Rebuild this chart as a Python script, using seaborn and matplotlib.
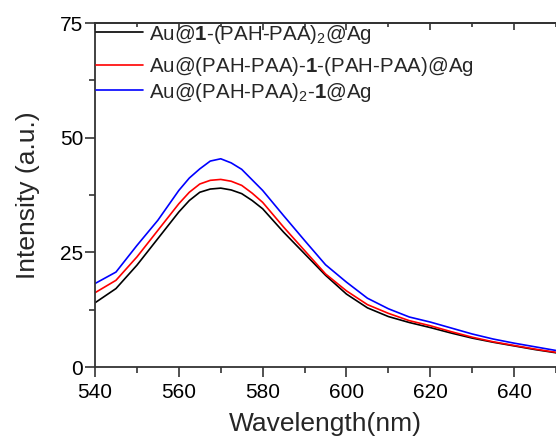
import matplotlib
matplotlib.use("Agg")
import matplotlib.pyplot as plt
import seaborn as sns
import pandas as pd
from matplotlib.ticker import MultipleLocator
from matplotlib.legend import Legend

sns.set_style("ticks")
plt.rcParams['font.family'] = ['Liberation Sans', 'DejaVu Sans']
plt.rcParams['mathtext.fontset'] = 'custom'
plt.rcParams['mathtext.rm'] = 'Liberation Sans'
plt.rcParams['mathtext.bf'] = 'Liberation Sans:bold'
plt.rcParams['mathtext.it'] = 'Liberation Sans:italic'

wavelength = [540, 545, 550, 555, 560, 562.5, 565, 567.5, 570, 572.5, 575, 577.5, 580,
              585, 590, 595, 600, 605, 610, 615, 620, 625, 630, 635, 640, 645, 650]
black_vals = [14.0, 17.1, 22.2, 28.0, 33.8, 36.3, 38.1, 38.8, 39.0, 38.6, 37.8, 36.3, 34.5,
              29.4, 24.7, 20.0, 15.9, 12.9, 11.0, 9.7, 8.6, 7.4, 6.3, 5.4, 4.6, 3.8, 3.1]
red_vals = [16.2, 18.9, 24.0, 29.8, 35.6, 38.1, 39.9, 40.7, 40.9, 40.5, 39.6, 37.9, 35.9,
            30.5, 25.4, 20.3, 16.6, 13.6, 11.7, 10.1, 9.0, 7.7, 6.5, 5.5, 4.7, 3.9, 3.2]
blue_vals = [18.2, 20.7, 26.5, 32.0, 38.5, 41.2, 43.2, 44.9, 45.4, 44.5, 43.1, 40.8, 38.5,
             33.0, 27.6, 22.3, 18.5, 15.0, 12.7, 10.9, 9.8, 8.5, 7.2, 6.1, 5.2, 4.4, 3.6]
labels = [r"Au@$\mathbf{1}$-(PAH-PAA)$_2$@Ag",
          r"Au@(PAH-PAA)-$\mathbf{1}$-(PAH-PAA)@Ag",
          r"Au@(PAH-PAA)$_2$-$\mathbf{1}$@Ag"]
colors = ["#000000", "#ff0000", "#0000ff"]

rows = []
for lab, vals in zip(labels, [black_vals, red_vals, blue_vals]):
    for w, v in zip(wavelength, vals):
        rows.append({"Wavelength": w, "Intensity": v, "Sample": lab})
df = pd.DataFrame(rows)

fig = plt.figure(figsize=(5.56, 4.41), dpi=100)
ax = fig.add_axes([0.1709, 0.1678, 0.8291, 0.78])
sns.lineplot(data=df, x="Wavelength", y="Intensity", hue="Sample",
             palette=dict(zip(labels, colors)), hue_order=labels,
             linewidth=1.2, ax=ax, legend=True)

ax.set_xlim(540, 650)
ax.set_ylim(0, 75)
ax.xaxis.set_major_locator(MultipleLocator(20))
ax.xaxis.set_minor_locator(MultipleLocator(10))
ax.yaxis.set_major_locator(MultipleLocator(25))
ax.yaxis.set_minor_locator(MultipleLocator(12.5))
ax.tick_params(axis='both', which='major', labelsize=15, length=7, width=1.2,
               direction='out', colors='#333333', labelcolor='black')
ax.tick_params(axis='both', which='minor', length=4, width=1.2,
               direction='out', colors='#333333')
ax.tick_params(axis='x', which='major', pad=4.5)
ax.tick_params(axis='y', which='major', pad=1.5)
for s in ['left', 'bottom', 'top']:
    ax.spines[s].set_linewidth(1.3)
    ax.spines[s].set_color('#333333')
ax.spines['right'].set_visible(False)

# top axis ticks pointing inward
sec = ax.secondary_xaxis('top')
sec.xaxis.set_major_locator(MultipleLocator(20))
sec.xaxis.set_minor_locator(MultipleLocator(10))
sec.tick_params(axis='x', which='both', direction='in', labeltop=False,
                colors='#333333', width=1.2)
sec.tick_params(axis='x', which='major', length=5)
sec.tick_params(axis='x', which='minor', length=3)
sec.spines['top'].set_linewidth(1.3)
sec.spines['top'].set_color('#333333')

ax.set_xlabel("Wavelength(nm)", fontsize=19, labelpad=7)
ax.set_ylabel("Intensity (a.u.)", fontsize=19, labelpad=14)

handles, labs = ax.get_legend_handles_labels()
ax.get_legend().remove()
ys = [34, 67, 92]
for h, l, yy in zip(handles, labs, ys):
    lg = Legend(ax, [h], [l], loc='center left',
                bbox_to_anchor=(96 / 556, 1 - yy / 441),
                bbox_transform=fig.transFigure, frameon=False,
                fontsize=14.8, handlelength=2.3, handletextpad=0.3,
                borderpad=0.0, borderaxespad=0.0)
    for line in lg.get_lines():
        line.set_linewidth(1.2)
    ax.add_artist(lg)

fig.savefig("out.png", dpi=100)
